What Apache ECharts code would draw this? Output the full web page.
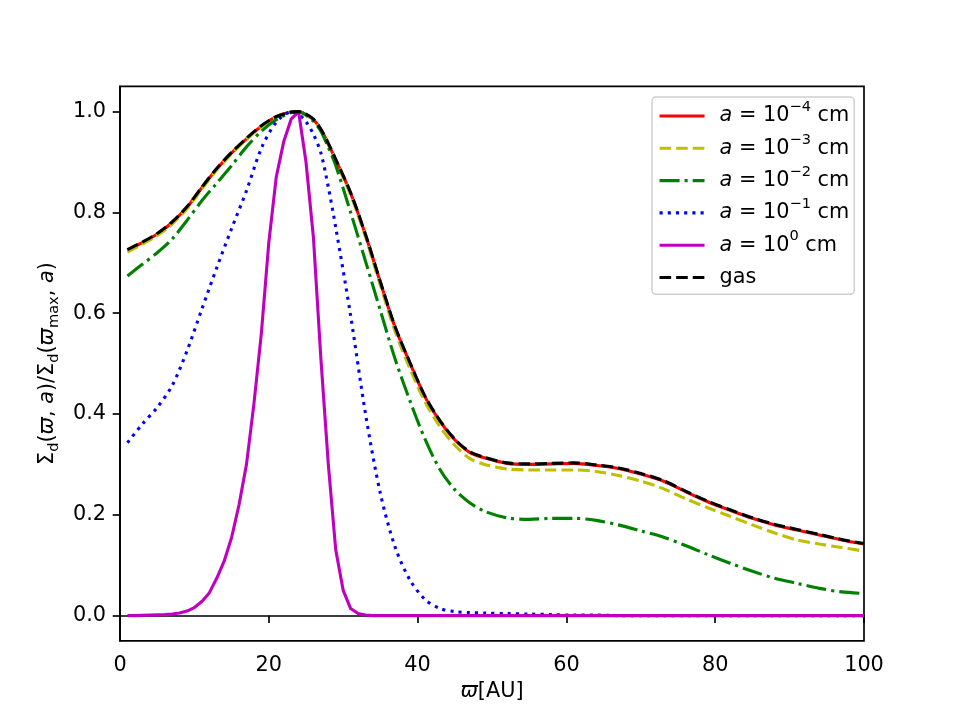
<!DOCTYPE html>
<html>
<head>
<meta charset="utf-8">
<script src="https://cdn.jsdelivr.net/npm/echarts@6/dist/echarts.min.js"></script>
<style>
html, body { margin: 0; background: #fff; }
#main { width: 960px; height: 720px; }
</style>
</head>
<body>
<div id="main"></div>
<script>
// radius grid [AU] for the broad curves
const xBroad = [1, 3, 5, 7, 9, 11, 13, 15, 17, 19, 21, 23, 24, 25, 26, 27, 28, 29, 31, 33, 35, 37, 39, 41, 43, 45, 47, 49,
  52, 55, 58, 61, 64, 67, 70, 73, 76, 79, 82, 85, 88, 91, 94, 97, 100]
const sizeA4 = [0.725, 0.740, 0.757, 0.780, 0.810, 0.849, 0.886, 0.918, 0.946, 0.971, 0.990, 0.999, 1.0, 0.994, 0.984, 0.965, 0.936, 0.904, 0.838, 0.755, 0.661, 0.571, 0.500, 0.434, 0.386, 0.349, 0.324, 0.313,
  0.302, 0.300, 0.301, 0.302, 0.298, 0.292, 0.281, 0.267, 0.246, 0.226, 0.209, 0.193, 0.180, 0.170, 0.160, 0.150, 0.142]
const sizeA3 = [0.721, 0.737, 0.754, 0.777, 0.807, 0.846, 0.884, 0.916, 0.945, 0.970, 0.989, 0.999, 1.0, 0.994, 0.983, 0.964, 0.934, 0.902, 0.835, 0.751, 0.655, 0.563, 0.489, 0.424, 0.375, 0.338, 0.312, 0.300,
  0.291, 0.289, 0.289, 0.289, 0.286, 0.278, 0.267, 0.252, 0.232, 0.214, 0.197, 0.180, 0.164, 0.150, 0.142, 0.135, 0.128]
const sizeA2 = [0.674, 0.697, 0.720, 0.747, 0.784, 0.823, 0.858, 0.893, 0.930, 0.961, 0.984, 0.998, 1.0, 0.993, 0.981, 0.961, 0.929, 0.893, 0.800, 0.703, 0.605, 0.508, 0.425, 0.350, 0.290, 0.250, 0.224, 0.207,
  0.194, 0.191, 0.193, 0.193, 0.189, 0.180, 0.168, 0.156, 0.139, 0.121, 0.104, 0.088, 0.074, 0.064, 0.054, 0.047, 0.044]
const sizeA1 = [0.343, 0.380, 0.413, 0.456, 0.525, 0.608, 0.690, 0.768, 0.843, 0.927, 0.979, 0.999, 0.995, 0.980, 0.955, 0.918, 0.850, 0.770, 0.595, 0.400, 0.242, 0.135, 0.070, 0.032, 0.014, 0.008, 0.006, 0.005,
  0.004, 0.003, 0.002, 0.001, 0.001, 0, 0, 0, 0, 0, 0, 0, 0, 0, 0, 0, 0]
const gasVals = [0.726, 0.741, 0.758, 0.781, 0.811, 0.850, 0.887, 0.919, 0.947, 0.972, 0.990, 0.999, 1.0, 0.995, 0.985, 0.965, 0.937, 0.905, 0.839, 0.756, 0.662, 0.572, 0.501, 0.435, 0.387, 0.350, 0.325, 0.314,
  0.303, 0.301, 0.302, 0.303, 0.299, 0.293, 0.282, 0.268, 0.247, 0.227, 0.210, 0.194, 0.181, 0.171, 0.161, 0.151, 0.143]

// the a = 1 cm curve is sampled per AU
const xMag = [1, 2, 3, 4, 5, 6, 7, 8, 9, 10, 11, 12, 13, 14, 15, 16, 17, 18, 19, 20, 21, 22, 23, 24, 25, 26, 27, 28, 29, 30, 31, 32, 33, 34, 40, 50, 60, 70, 80, 90, 100]
const sizeA0 = [0, 0, 0.0005, 0.001, 0.0015, 0.002, 0.003, 0.005, 0.009, 0.016, 0.028, 0.045, 0.074, 0.108, 0.155, 0.22, 0.30, 0.42, 0.56, 0.74, 0.87, 0.94, 0.985, 1.0, 0.90, 0.75, 0.51, 0.30, 0.13, 0.05, 0.014, 0.004, 0.001, 0, 0, 0, 0, 0, 0, 0, 0]

const xTicks = [0, 20, 40, 60, 80, 100]
const yTicks = [0, 0.2, 0.4, 0.6, 0.8, 1.0]
const legendExp = ['−4', '−3', '−2', '−1', '0']

const FS = 20.8
const LW = 3.1
const zip = (xs, ys) => xs.map((x, i) => [x, ys[i]])

const chart = echarts.init(document.getElementById('main'))

function lineSeries (name, data, color, type, smooth) {
  return {
    name: name,
    type: 'line',
    data: data,
    symbol: 'none',
    smooth: smooth ? 0.3 : false,
    silent: true,
    lineStyle: { color: color, width: LW, type: type, cap: 'butt', join: 'round' },
    itemStyle: { color: color }
  }
}

const names = legendExp.map(e => 'a' + e).concat(['gas'])

const option = {
  animation: false,
  backgroundColor: '#fff',
  textStyle: { fontFamily: 'DejaVu Sans' },
  grid: {
    left: 120, right: 96, top: 86.4, bottom: 79.2,
    show: true, borderColor: '#000', borderWidth: 1.67, backgroundColor: 'transparent'
  },
  xAxis: {
    type: 'value',
    min: 0, max: 100, interval: 20,
    splitLine: { show: false },
    axisLine: { lineStyle: { color: '#000', width: 1.67 } },
    axisTick: { customValues: xTicks, length: 7.3, lineStyle: { color: '#000', width: 1.67 } },
    axisLabel: { customValues: xTicks, color: '#000', fontSize: FS, margin: 14, fontFamily: 'DejaVu Sans' },
    name: '{i|ϖ}{n|[AU]}',
    nameLocation: 'middle',
    nameGap: 40,
    nameTextStyle: {
      color: '#000',
      rich: {
        i: { fontSize: FS, fontStyle: 'italic', fontFamily: 'DejaVu Sans', color: '#000' },
        n: { fontSize: FS, fontFamily: 'DejaVu Sans', color: '#000' }
      }
    }
  },
  yAxis: {
    type: 'value',
    min: -0.05, max: 1.05,
    splitLine: { show: false },
    axisLine: { lineStyle: { color: '#000', width: 1.67 } },
    axisTick: { customValues: yTicks, length: 7.3, lineStyle: { color: '#000', width: 1.67 } },
    axisLabel: {
      customValues: yTicks, color: '#000', fontSize: FS, margin: 14, fontFamily: 'DejaVu Sans',
      formatter: v => v.toFixed(1)
    },
    name: '{n|Σ}{s|d}{n|(}{i|ϖ}{n|, }{i|a}{n|)/Σ}{s|d}{n|(}{i|ϖ}{s|max}{n|, }{i|a}{n|)}',
    nameLocation: 'middle',
    nameRotate: 90,
    nameGap: 52,
    nameTextStyle: {
      color: '#000',
      rich: {
        n: { fontSize: FS, lineHeight: 28, fontFamily: 'DejaVu Sans', color: '#000' },
        i: { fontSize: FS, lineHeight: 28, fontStyle: 'italic', fontFamily: 'DejaVu Sans', color: '#000' },
        s: { fontSize: 14.6, lineHeight: 14.6, verticalAlign: 'bottom', fontFamily: 'DejaVu Sans', color: '#000' }
      }
    }
  },
  legend: {
    orient: 'vertical',
    left: 652, top: 97,
    data: names,
    itemWidth: 45,
    itemHeight: 27,
    itemGap: 5.5,
    padding: [3, 5, 6, 6],
    backgroundColor: '#fff',
    borderColor: '#d0d0d0',
    borderWidth: 1.5,
    borderRadius: 4,
    selectedMode: false,
    itemStyle: { color: 'rgba(0,0,0,0)', borderColor: 'rgba(0,0,0,0)', borderWidth: 0, opacity: 0 },
    lineStyle: { width: LW, cap: 'butt' },
    formatter: function (name) {
      if (name === 'gas') return '{n|gas}{s| }'
      const e = name.slice(1)
      return '{i|a}{n| = 10}{s|' + e + '}{n| cm}'
    },
    textStyle: {
      padding: [0, 0, 0, 10],
      rich: {
        n: { fontSize: FS, lineHeight: 32, fontFamily: 'DejaVu Sans', color: '#000' },
        i: { fontSize: FS, lineHeight: 32, fontStyle: 'italic', fontFamily: 'DejaVu Sans', color: '#000' },
        s: { fontSize: 14.6, lineHeight: 14.6, verticalAlign: 'top', fontFamily: 'DejaVu Sans', color: '#000' }
      }
    }
  },
  series: [
    lineSeries(names[0], zip(xBroad, sizeA4), '#ff0000', 'solid', true),
    lineSeries(names[1], zip(xBroad, sizeA3), '#bfbf00', [11.6, 5], true),
    lineSeries(names[2], zip(xBroad, sizeA2), '#008000', [20, 5, 3.1, 5], true),
    lineSeries(names[3], zip(xBroad, sizeA1), '#0000ff', [3.1, 5.1], true),
    lineSeries(names[4], zip(xMag, sizeA0), '#bf00bf', 'solid', false),
    lineSeries(names[5], zip(xBroad, gasVals), '#000000', [11.6, 5], true)
  ]
}

chart.setOption(option)
</script>
</body>
</html>
